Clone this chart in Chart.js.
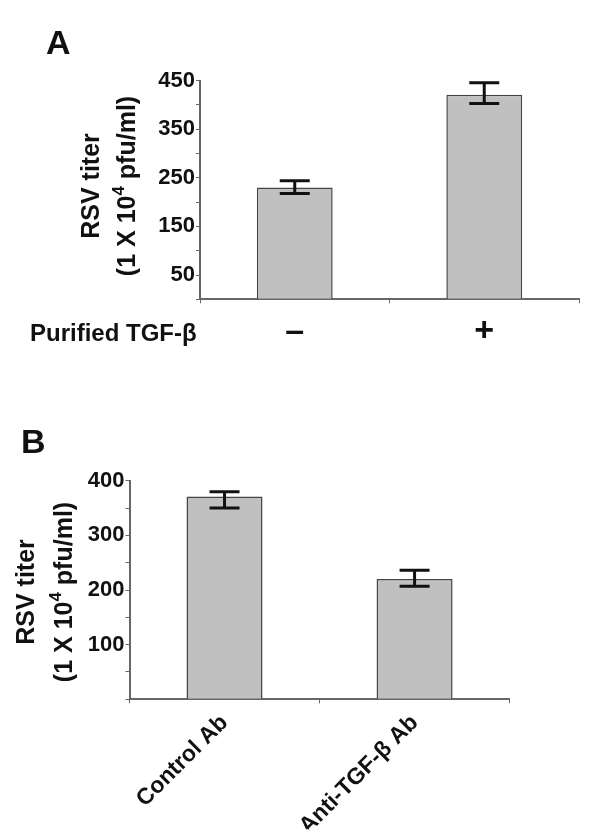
<!DOCTYPE html>
<html lang="en">
<head>
    <meta charset="UTF-8">
    <title>RSV titer</title>
    <script src="https://cdn.jsdelivr.net/npm/chart.js"></script>
    <style>
        body { margin: 0; background: #fff; }
        #wrap { position: relative; width: 600px; height: 840px; }
        #chartA { position: absolute; left: 0; top: 0; }
        #chartB { position: absolute; left: 0; top: 380px; }
    </style>
</head>
<body>
    <div id="wrap">
        <canvas id="chartA" width="600" height="380"></canvas>
        <canvas id="chartB" width="600" height="460"></canvas>
    </div>

    <script>
        // panel A : purified TGF-beta
        const labelsA = ['–', '+'];
        const valuesA = [230, 421];
        const errHighA = [244, 446];
        const errLowA = [218, 403];

        // panel B : antibody
        const labelsB = ['Control Ab', 'Anti-TGF-β Ab'];
        const valuesB = [371, 220];
        const errHighB = [380, 236];
        const errLowB = [350, 207];

        const FONT = 'Arial, "Liberation Sans", sans-serif';
        const AXIS_COLOR = '#666';

        // error bars drawn on top of the bars
        const errorBars = {
            id: 'errorBars',
            afterDatasetsDraw(chart, args, opts) {
                const ctx = chart.ctx;
                const y = chart.scales.y;
                const meta = chart.getDatasetMeta(0);
                ctx.save();
                ctx.strokeStyle = '#111';
                ctx.lineWidth = 3;
                meta.data.forEach(function (bar, i) {
                    const top = y.getPixelForValue(opts.high[i]);
                    const bot = y.getPixelForValue(opts.low[i]);
                    ctx.beginPath();
                    ctx.moveTo(bar.x, top); ctx.lineTo(bar.x, bot);
                    ctx.moveTo(bar.x - 15, top); ctx.lineTo(bar.x + 15, top);
                    ctx.moveTo(bar.x - 15, bot); ctx.lineTo(bar.x + 15, bot);
                    ctx.stroke();
                });
                ctx.restore();
            }
        };

        // two-line rotated y title with superscript, plus extra texts
        const decorations = {
            id: 'decorations',
            afterDraw(chart, args, opts) {
                const ctx = chart.ctx;
                const area = chart.chartArea;
                const cy = (area.top + area.bottom) / 2 + opts.titleShift;
                ctx.save();
                ctx.fillStyle = '#111';

                // panel letter
                ctx.font = 'bold 34px ' + FONT;
                ctx.textAlign = 'left';
                ctx.textBaseline = 'alphabetic';
                ctx.fillText(opts.letter, opts.letterX, opts.letterY);

                // y title line 1
                ctx.textBaseline = 'middle';
                ctx.save();
                ctx.translate(opts.titleX1, cy);
                ctx.rotate(-Math.PI / 2);
                ctx.font = 'bold 25px ' + FONT;
                ctx.textAlign = 'center';
                ctx.fillText('RSV titer', 0, 0);
                ctx.restore();

                // y title line 2 with superscript 4
                ctx.save();
                ctx.translate(opts.titleX2, cy);
                ctx.rotate(-Math.PI / 2);
                ctx.textAlign = 'left';
                const big = 'bold 25px ' + FONT;
                const small = 'bold 17px ' + FONT;
                ctx.font = big;
                const w1 = ctx.measureText('(1 X 10').width;
                const w3 = ctx.measureText(' pfu/ml)').width;
                ctx.font = small;
                const w2 = ctx.measureText('4').width;
                let x = -(w1 + w2 + w3) / 2;
                ctx.font = big;
                ctx.fillText('(1 X 10', x, 0);
                x += w1;
                ctx.font = small;
                ctx.fillText('4', x, -9);
                x += w2;
                ctx.font = big;
                ctx.fillText(' pfu/ml)', x, 0);
                ctx.restore();

                if (opts.xTitle) {
                    ctx.font = 'bold 24px ' + FONT;
                    ctx.textAlign = 'left';
                    ctx.fillText(opts.xTitle, opts.xTitleX, opts.xTitleY);
                }
                ctx.restore();
            }
        };

        function makeChart(id, labels, values, high, low, yMax, labelTick, xOpts, pad, deco) {
            const ctx = document.getElementById(id).getContext('2d');
            return new Chart(ctx, {
                type: 'bar',
                data: {
                    labels: labels,
                    datasets: [{
                        data: values,
                        backgroundColor: '#c0c0c0',
                        borderColor: '#444',
                        borderWidth: 1.5,
                        categoryPercentage: 1,
                        barPercentage: 0.4
                    }]
                },
                options: {
                    responsive: false,
                    animation: false,
                    devicePixelRatio: 1,
                    layout: { padding: pad },
                    plugins: {
                        legend: { display: false },
                        tooltip: { enabled: false },
                        errorBars: { high: high, low: low },
                        decorations: deco
                    },
                    scales: {
                        x: Object.assign({
                            afterFit: function (s) { s.height = xOpts.height; },
                            border: { display: true, color: AXIS_COLOR, width: 2 },
                            grid: { offset: true, drawOnChartArea: false, tickLength: 4, color: AXIS_COLOR }
                        }, xOpts.scale),
                        y: {
                            min: 0,
                            max: yMax,
                            afterFit: function (s) { s.width = 60; },
                            border: { display: true, color: AXIS_COLOR, width: 2 },
                            grid: { drawOnChartArea: false, tickLength: 4, color: AXIS_COLOR },
                            ticks: {
                                stepSize: 50,
                                autoSkip: false,
                                padding: 1,
                                color: '#111',
                                font: { family: FONT, size: 22, weight: 'bold' },
                                callback: function (v) { return labelTick(v) ? String(v) : ''; }
                            }
                        }
                    }
                },
                plugins: [errorBars, decorations]
            });
        }

        makeChart('chartA', labelsA, valuesA, errHighA, errLowA, 450,
            function (v) { return v % 100 === 50; },
            {
                height: 50,
                scale: {
                    ticks: {
                        maxRotation: 0,
                        padding: 8,
                        color: '#111',
                        font: { family: FONT, size: 34, weight: 'bold' }
                    }
                }
            },
            { left: 140, right: 21, top: 80.7, bottom: 30.7 },
            { letter: 'A', letterX: 46, letterY: 54, titleX1: 92, titleX2: 128, titleShift: -4,
              xTitle: 'Purified TGF-β', xTitleX: 30, xTitleY: 334 });

        makeChart('chartB', labelsB, valuesB, errHighB, errLowB, 400,
            function (v) { return v > 0 && v % 100 === 0; },
            {
                height: 130,
                scale: {
                    ticks: {
                        minRotation: 45,
                        maxRotation: 45,
                        padding: 6,
                        color: '#111',
                        font: { family: FONT, size: 23, weight: 'bold' }
                    }
                }
            },
            { left: 69.5, right: 90.4, top: 100.7, bottom: 10.7 },
            { letter: 'B', letterX: 21, letterY: 73, titleX1: 27, titleX2: 65, titleShift: 2 });
    </script>
</body>
</html>
